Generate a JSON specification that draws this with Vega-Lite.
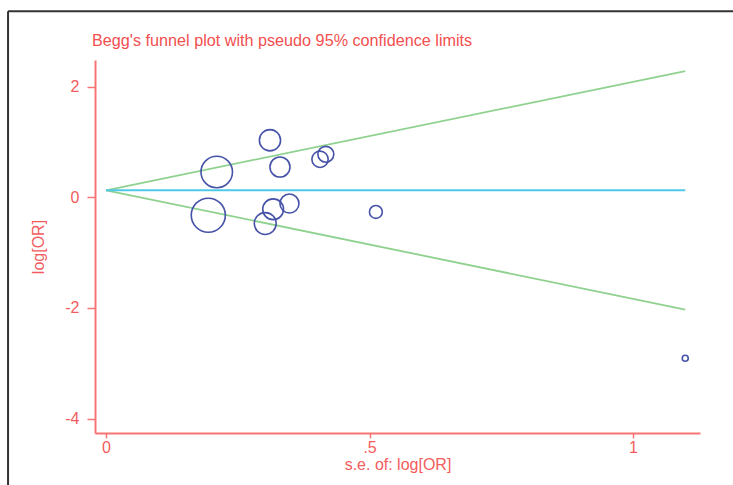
{
  "$schema": "https://vega.github.io/schema/vega-lite/v6.json",
  "width": 605,
  "height": 373,
  "autosize": "none",
  "padding": {"left": 95, "top": 60, "right": 33, "bottom": 52},
  "background": "white",
  "config": {
    "view": {"stroke": null},
    "font": "Liberation Sans",
    "axis": {
      "grid": false,
      "domainColor": "#f77474",
      "domainWidth": 2,
      "tickColor": "#f77474",
      "tickWidth": 1.5,
      "tickSize": 7,
      "labelColor": "#f25c5c",
      "titleColor": "#f25c5c",
      "labelFont": "Liberation Sans",
      "titleFont": "Liberation Sans",
      "labelFontSize": 16,
      "titleFontSize": 16,
      "titleFontWeight": "normal"
    }
  },
  "datasets": {
    "studies": [
      {"se": 0.311, "logor": 1.03, "weight": 10.3},
      {"se": 0.210, "logor": 0.457, "weight": 22.7},
      {"se": 0.330, "logor": 0.547, "weight": 9.2},
      {"se": 0.406, "logor": 0.686, "weight": 6.1},
      {"se": 0.417, "logor": 0.776, "weight": 5.8},
      {"se": 0.194, "logor": -0.325, "weight": 26.6},
      {"se": 0.317, "logor": -0.217, "weight": 9.9},
      {"se": 0.348, "logor": -0.114, "weight": 8.3},
      {"se": 0.302, "logor": -0.475, "weight": 11.0},
      {"se": 0.512, "logor": -0.265, "weight": 3.8},
      {"se": 1.099, "logor": -2.91, "weight": 0.83}
    ],
    "limits": [
      {"se": 0, "line": "upper", "value": 0.126},
      {"se": 1.099, "line": "upper", "value": 2.28},
      {"se": 0, "line": "lower", "value": 0.126},
      {"se": 1.099, "line": "lower", "value": -2.03}
    ],
    "center": [
      {"se": 0, "value": 0.126},
      {"se": 1.099, "value": 0.126}
    ],
    "heading": [
      {"label": "Begg's funnel plot with pseudo 95% confidence limits"}
    ]
  },
  "layer": [
    {
      "data": {"name": "limits"},
      "mark": {"type": "line", "color": "#8fd18f", "strokeWidth": 1.8},
      "encoding": {
        "x": {"field": "se", "type": "quantitative", "scale": {"domain": [-0.021, 1.127], "nice": false, "zero": false},
          "axis": {"values": [0, 0.5, 1], "labelExpr": "datum.value == 0.5 ? '.5' : '' + datum.value", "title": "s.e. of: log[OR]", "tickSize": 5, "labelPadding": 1, "titlePadding": 1}},
        "y": {"field": "value", "type": "quantitative", "scale": {"domain": [-4.26, 2.48], "nice": false, "zero": false},
          "axis": {"values": [2, 0, -2, -4], "labelExpr": "'' + datum.value", "title": "log[OR]", "tickSize": 8, "labelPadding": 8, "titlePadding": 18}},
        "detail": {"field": "line"}
      }
    },
    {
      "data": {"name": "center"},
      "mark": {"type": "line", "color": "#4dc8e6", "strokeWidth": 1.8},
      "encoding": {
        "x": {"field": "se", "type": "quantitative"},
        "y": {"field": "value", "type": "quantitative"}
      }
    },
    {
      "data": {"name": "studies"},
      "mark": {"type": "point", "shape": "circle", "filled": false, "color": "#4652a8", "strokeWidth": 1.6, "opacity": 1},
      "encoding": {
        "x": {"field": "se", "type": "quantitative"},
        "y": {"field": "logor", "type": "quantitative"},
        "size": {"field": "weight", "type": "quantitative", "scale": {"type": "linear", "domain": [0, 30], "range": [0, 1310], "zero": true}, "legend": null}
      }
    },
    {
      "data": {"name": "heading"},
      "mark": {"type": "text", "color": "#f24f4f", "font": "Liberation Sans", "fontSize": 16.2, "align": "left", "baseline": "alphabetic", "clip": false},
      "encoding": {
        "x": {"datum": -0.0266, "type": "quantitative"},
        "y": {"datum": 2.735, "type": "quantitative"},
        "text": {"field": "label"}
      }
    },
    {
      "data": {"values": [{}]},
      "mark": {"type": "rule", "color": "#333333", "strokeWidth": 2, "clip": false},
      "encoding": {
        "x": {"datum": -0.186, "type": "quantitative"},
        "y": {"datum": 3.36, "type": "quantitative"},
        "y2": {"datum": -5.5}
      }
    },
    {
      "data": {"values": [{}]},
      "mark": {"type": "rule", "color": "#333333", "strokeWidth": 2, "clip": false},
      "encoding": {
        "x": {"datum": -0.186, "type": "quantitative"},
        "x2": {"datum": 1.3},
        "y": {"datum": 3.36, "type": "quantitative"}
      }
    }
  ]
}
